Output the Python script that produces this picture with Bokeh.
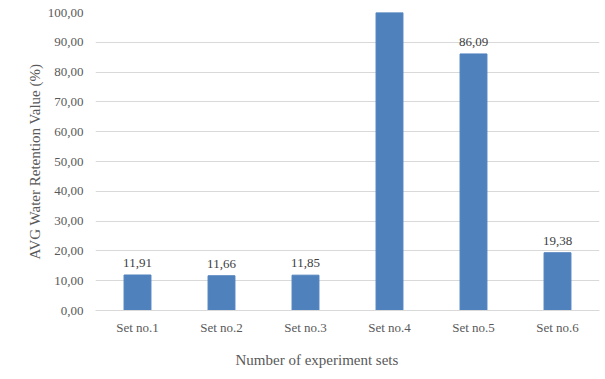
from bokeh.plotting import figure
from bokeh.models import ColumnDataSource, CustomJSTickFormatter, FixedTicker, Range1d, Title
from bokeh.embed import file_html
from bokeh.resources import INLINE

categories = ["Set no.1", "Set no.2", "Set no.3", "Set no.4", "Set no.5", "Set no.6"]
values = [11.91, 11.66, 11.85, 100.00, 86.09, 19.38]
y_ticks = [0, 10, 20, 30, 40, 50, 60, 70, 80, 90, 100]

FONT = "Liberation Serif"
GRAY = "#595959"

p = figure(x_range=categories, width=605, height=379, output_backend="svg",
           toolbar_location=None, tools="",
           min_border_left=95, min_border_right=6, min_border_top=12, min_border_bottom=69)
p.y_range = Range1d(0, 100)

src = ColumnDataSource(dict(x=categories, top=values))
p.vbar(x="x", top="top", width=0.32, source=src, color="#4F81BD")

# data labels (the 100 % bar's label falls outside the plot area in the reference)
lab_x = [c for c, v in zip(categories, values) if v < 95]
lab_y = [v for v in values if v < 95]
lab_t = [f"{v:.2f}".replace(".", ",") for v in lab_y]
p.text(x=lab_x, y=lab_y, text=lab_t, text_align="center", text_baseline="bottom",
       y_offset=-8, text_font_size="13px", text_color="#404040", text_font=FONT)

p.outline_line_color = None
p.background_fill_color = "white"
p.border_fill_color = "white"

p.xgrid.grid_line_color = None
p.ygrid.grid_line_color = "#D9D9D9"
p.ygrid.grid_line_width = 1

p.yaxis.ticker = FixedTicker(ticks=y_ticks)
p.yaxis.formatter = CustomJSTickFormatter(code="return tick.toFixed(2).replace('.', ',');")
p.yaxis.axis_line_color = None
p.yaxis.major_tick_line_color = None
p.yaxis.minor_tick_line_color = None
p.yaxis.major_tick_out = 0
p.yaxis.major_label_standoff = 12
p.yaxis.axis_label = "AVG Water Retention Value (%)"
p.yaxis.axis_label_standoff = 2

p.xaxis.axis_line_color = "#D9D9D9"
p.xaxis.major_tick_line_color = None
p.xaxis.minor_tick_line_color = None
p.xaxis.major_tick_out = 0
p.xaxis.major_label_standoff = 9

for ax in (p.xaxis, p.yaxis):
    ax.major_label_text_font = FONT
    ax.major_label_text_font_size = "13px"
    ax.major_label_text_color = GRAY
    ax.axis_label_text_font = FONT
    ax.axis_label_text_font_size = "15px"
    ax.axis_label_text_font_style = "normal"
    ax.axis_label_text_color = GRAY

xtitle = Title(text="Number of experiment sets", align="left", offset=140, standoff=24,
               text_font=FONT, text_font_size="15px", text_color=GRAY,
               text_font_style="normal")
p.add_layout(xtitle, "below")

open("out.html", "w").write(file_html(p, INLINE))
